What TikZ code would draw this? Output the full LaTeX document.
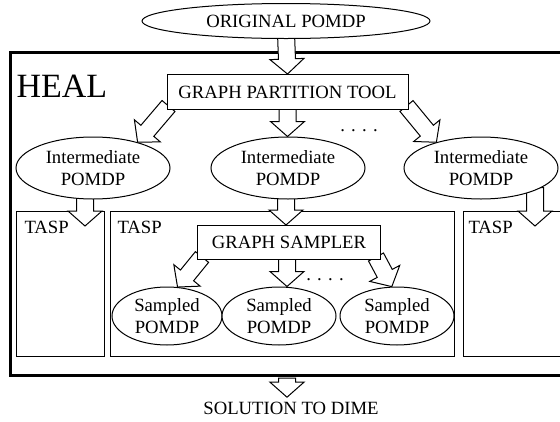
\documentclass[tikz,border=0pt]{standalone}
\usepackage{fontspec}
\setmainfont{Liberation Serif}
\usetikzlibrary{calc,shapes.geometric}
\pgfdeclarelayer{bg}
\pgfdeclarelayer{arr}
\pgfsetlayers{bg,arr,main}
\tikzset{
  lbl/.style={font=\fontsize{18.7}{22}\selectfont},
  ellnode/.style={ellipse, draw, line width=1pt, fill=white, inner sep=0pt, align=center, lbl},
  boxnode/.style={rectangle, draw, line width=1pt, fill=white, inner sep=0pt, lbl},
  taspbox/.style={rectangle, draw, line width=1pt, inner sep=0pt, anchor=north west},
  fatarrow/.style={draw, line width=1pt, fill=white, line join=miter},
}
\newcommand{\fatarrow}[2]{%
  \coordinate (fah) at ($(#2)!15pt!(#1)$);
  \draw[fatarrow] ($(#1)!8.5pt!90:(#2)$) -- ($(fah)!8.5pt!90:(#2)$) -- ($(fah)!17pt!90:(#2)$)
    -- (#2) -- ($(fah)!17pt!-90:(#2)$) -- ($(fah)!8.5pt!-90:(#2)$) -- ($(#1)!8.5pt!-90:(#2)$) -- cycle;
}
\begin{document}
\begin{tikzpicture}[x=1pt,y=-1pt]
\useasboundingbox (0,0) rectangle (560,421);
\clip (0,0) rectangle (560,421);

% main nodes
\node[ellnode, minimum width=288, minimum height=35] (orig) at (286,21) {ORIGINAL POMDP};
\node[boxnode, minimum width=241, minimum height=35] (gpt) at (287.5,92) {GRAPH PARTITION TOOL};
\node[ellnode, minimum width=154, minimum height=62] (int1) at (93,168) {Intermediate\\POMDP};
\node[ellnode, minimum width=154, minimum height=62] (int2) at (288,168) {Intermediate\\POMDP};
\node[ellnode, minimum width=154, minimum height=62] (int3) at (481,168) {Intermediate\\POMDP};
\node[boxnode, minimum width=183, minimum height=34] (gs) at (289,242.5) {GRAPH SAMPLER};
\node[ellnode, minimum width=110, minimum height=58] (s1) at (167,316) {Sampled\\POMDP};
\node[ellnode, minimum width=114, minimum height=58] (s2) at (279,316) {Sampled\\POMDP};
\node[ellnode, minimum width=114, minimum height=58] (s3) at (397,316) {Sampled\\POMDP};
\node[lbl] (dots1) at (359,131) {.\,\,.\,\,.\,\,.};
\node[lbl] (dots2) at (325,280) {.\,\,.\,\,.\,\,.};
\node[lbl] (sol) at (291,408) {SOLUTION TO DIME};

% frames
\begin{pgfonlayer}{bg}
\node[draw, line width=3pt, minimum width=570, minimum height=323, anchor=north west, inner sep=0pt] (heal) at (9,50.5) {};
\node[taspbox, minimum width=88, minimum height=145] (tasp1) at (16,211) {};
\node[taspbox, minimum width=344, minimum height=145] (tasp2) at (110,211) {};
\node[taspbox, minimum width=110, minimum height=145] (tasp3) at (463,211) {};
\node[anchor=base west, font=\fontsize{34}{34}\selectfont] (heallbl) at (13,97) {HEAL};
\node[lbl, anchor=base west] (tl1) at ($(tasp1.north west)+(5,22)$) {TASP};
\node[lbl, anchor=base west] (tl2) at ($(tasp2.north west)+(4,22)$) {TASP};
\node[lbl, anchor=base west] (tl3) at ($(tasp3.north west)+(2,22)$) {TASP};
\end{pgfonlayer}

% connectors
\coordinate (origin) at ($(orig.south)+(0,-6)$);
\coordinate (gptL) at ($(gpt.south west)+(2,-4)$);
\coordinate (gptR) at ($(gpt.south east)+(-2,-4)$);
\coordinate (gptM) at ($(gpt.south)+(0,-4)$);
\coordinate (i1s) at ($(int1.south)+(-8,-15)$);
\coordinate (i1t) at ($(tasp1.north west)+(69,15)$);
\coordinate (i2s) at ($(int2.south)+(-2,-6)$);
\coordinate (i2t) at (gs.north -| i2s);
\coordinate (i3s) at ($(int3.south)+(54,-12)$);
\coordinate (i3t) at ($(tasp3.north west)+(72,15)$);
\coordinate (gsL) at ($(gs.south west)+(5,-3)$);
\coordinate (gsR) at ($(gs.south east)+(-5,-3)$);
\coordinate (gsM) at ($(gs.south)+(-2,-4)$);
\coordinate (s2t) at (s2.north -| gsM);
\coordinate (hb) at ($(heal.south)+(0,1.5)$);
\coordinate (healout) at (hb -| gsM);
\coordinate (solt) at ($(sol.north -| gsM)+(0,-1)$);
\begin{pgfonlayer}{arr}
\fatarrow{origin}{gpt.north}
\fatarrow{gptL}{int1.30}
\fatarrow{gptM}{gpt.south |- int2.north}
\fatarrow{gptR}{int3.150}
\fatarrow{i1s}{i1t}
\fatarrow{i2s}{i2t}
\fatarrow{i3s}{i3t}
\fatarrow{gsL}{s1.70}
\fatarrow{gsM}{s2t}
\fatarrow{gsR}{s3.100}
\fatarrow{healout}{solt}
\end{pgfonlayer}
\end{tikzpicture}
\end{document}
